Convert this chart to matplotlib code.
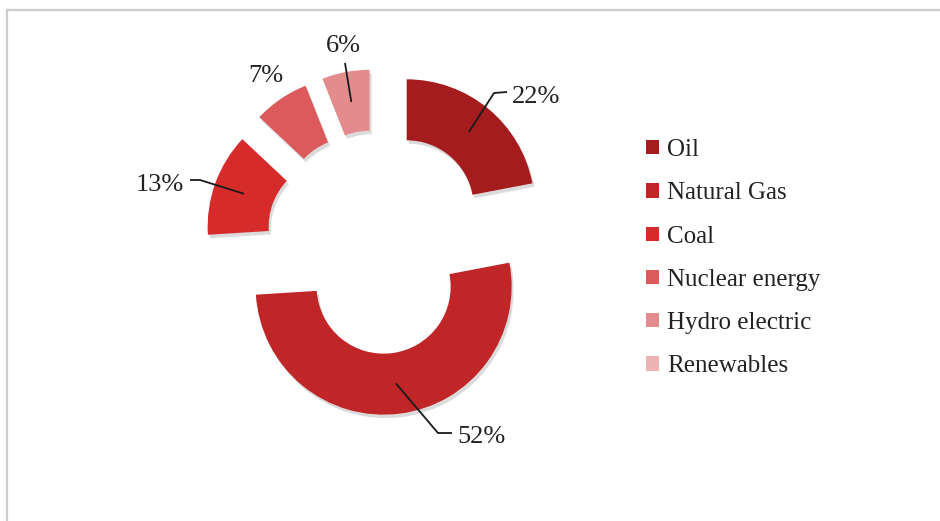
import numpy as np
import matplotlib
matplotlib.use("Agg")
import matplotlib.pyplot as plt
import matplotlib.patheffects as pe
from matplotlib.patches import Patch
from matplotlib.lines import Line2D

fuentes = ["Oil", "Natural Gas", "Coal", "Nuclear energy", "Hydro electric", "Renewables"]
porcentajes = [22, 52, 13, 7, 6, 0]
colores = ["#a51c1e", "#c02527", "#d52b2b", "#dc5a5c", "#e38b8d", "#ecb4b5"]

# leader line elbows and text spots, in pixel coords (y measured from top)
etiquetas = {
    0: dict(codo=(494, 93), fin=(507, 92), texto=(512, 97), ha="left"),
    1: dict(codo=(438, 433), fin=(452, 433), texto=(457, 437), ha="left"),
    2: dict(codo=(200, 180), fin=(190, 180), texto=(184, 185), ha="right"),
    3: dict(codo=None, fin=None, texto=(266, 76), ha="center"),
    4: dict(codo=None, fin=(345, 63), texto=(343, 46), ha="center"),
}

W, H = 940, 521
plt.rcParams["font.family"] = ["Liberation Serif", "DejaVu Serif"]
fig = plt.figure(figsize=(W / 100, H / 100), dpi=100)
ax = fig.add_axes([0, 0, 1, 1])

def px(x, y):
    return x, H - y

radio = 128
grosor = 61
separa = 45
wedges, _ = ax.pie(porcentajes, colors=colores, startangle=90, counterclock=False,
                   radius=radio, center=px(378, 242), explode=[separa] * len(porcentajes),
                   wedgeprops=dict(width=grosor, linewidth=0))
for w, v in zip(wedges, porcentajes):
    if v == 0:
        w.set_visible(False)
        continue
    w.set_path_effects([pe.SimplePatchShadow(offset=(1.5, -2.5), shadow_rgbFace="#999999", alpha=0.35),
                        pe.Normal()])

ax.set_xlim(0, W)
ax.set_ylim(0, H)
ax.set_aspect("equal")
ax.axis("off")

for i, cfg in etiquetas.items():
    w = wedges[i]
    medio = np.deg2rad((w.theta1 + w.theta2) / 2)
    rm = radio - grosor / 2
    ancla = (w.center[0] + rm * np.cos(medio), w.center[1] + rm * np.sin(medio))
    pts = [ancla]
    if cfg["codo"] is not None:
        pts.append(px(*cfg["codo"]))
    if cfg["fin"] is not None:
        pts.append(px(*cfg["fin"]))
    if len(pts) > 1:
        xs, ys = zip(*pts)
        ax.plot(xs, ys, color="#1a1a1a", lw=1.3, solid_capstyle="butt")
    tx, ty = px(*cfg["texto"])
    ax.text(tx, ty, f"{porcentajes[i]}%", fontsize=19, color="#222222",
            ha=cfg["ha"], va="center")

handles = [Patch(facecolor=c, edgecolor="none") for c in colores]
ax.legend(handles, fuentes, loc="upper left", bbox_to_anchor=(646 / W, 1 - 139 / H),
          bbox_transform=fig.transFigure, frameon=False, fontsize=18,
          handlelength=0.5, handleheight=0.5, handletextpad=0.35,
          labelspacing=0.85, borderpad=0, borderaxespad=0, labelcolor="#222222")

# grey frame along top and left edges
fig.add_artist(Line2D([7 / W, 1], [1 - 10 / H, 1 - 10 / H], color="#cccccc", lw=1.6,
                      transform=fig.transFigure))
fig.add_artist(Line2D([7 / W, 7 / W], [0, 1 - 10 / H], color="#cccccc", lw=1.6,
                      transform=fig.transFigure))

fig.savefig("out.png", dpi=100)
